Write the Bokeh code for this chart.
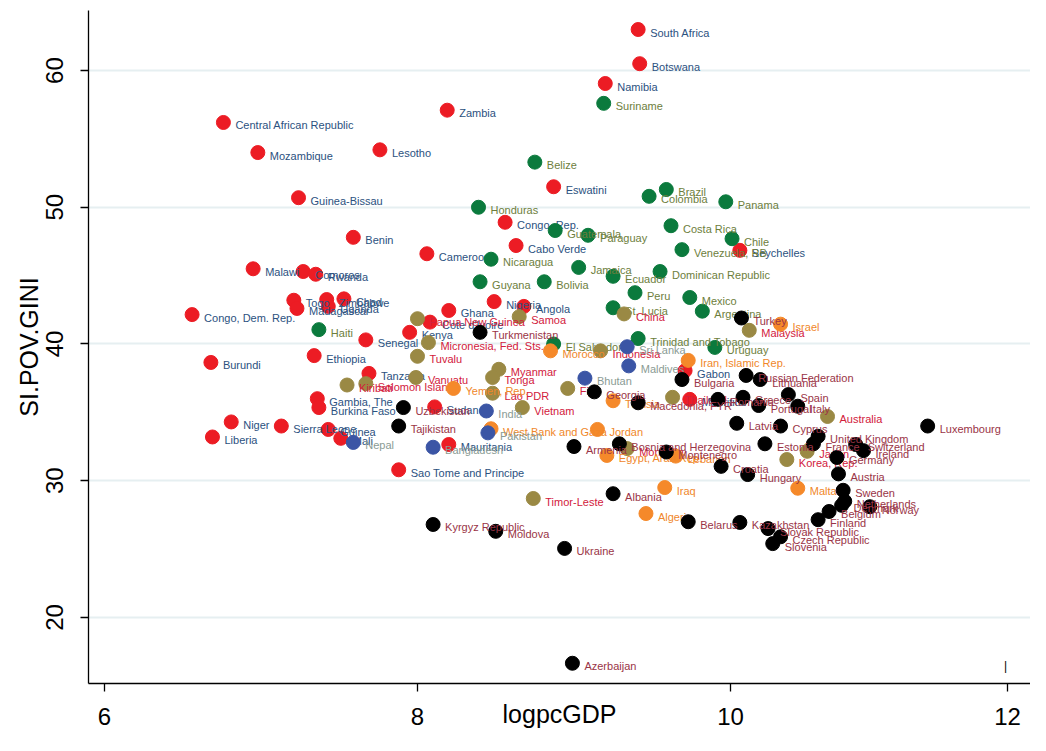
from bokeh.plotting import figure
from bokeh.models import ColumnDataSource, FixedTicker, Range1d, Label
from bokeh.embed import file_html
from bokeh.resources import INLINE
from bokeh.core.properties import value

# ---- data -------------------------------------------------------------
africa_names = ["South Africa", "Botswana", "Namibia", "Zambia", "Central African Republic",
                "Mozambique", "Lesotho", "Eswatini", "Guinea-Bissau", "Congo, Rep.", "Benin",
                "Cabo Verde", "Cameroon", "Malawi", "Comoros", "Rwanda", "Togo", "Madagascar",
                "Zimbabwe", "Uganda", "Chad", "Congo, Dem. Rep.", "Nigeria", "Angola", "Ghana",
                "Cote d'Ivoire", "Kenya", "Senegal", "Ethiopia", "Burundi", "Tanzania",
                "Gambia, The", "Burkina Faso", "Sudan", "Niger", "Liberia", "Sierra Leone",
                "Guinea", "Mali", "Mauritania", "Sao Tome and Principe", "Gabon", "Seychelles",
                "Mauritius"]
africa_x = [9.41, 9.42, 9.20, 8.19, 6.76, 6.98, 7.76, 8.87, 7.24, 8.56, 7.59, 8.63, 8.06,
            6.95, 7.27, 7.35, 7.21, 7.23, 7.42, 7.43, 7.53, 6.56, 8.49, 8.68, 8.20, 8.08,
            7.95, 7.67, 7.34, 6.68, 7.69, 7.36, 7.37, 8.11, 6.81, 6.69, 7.13, 7.43, 7.51,
            8.20, 7.88, 9.71, 10.06, 9.74]
africa_y = [63.0, 60.5, 59.05, 57.1, 56.2, 54.0, 54.2, 51.5, 50.7, 48.9, 47.8, 47.2, 46.6,
            45.5, 45.3, 45.1, 43.2, 42.6, 43.25, 42.75, 43.3, 42.15, 43.1, 42.75, 42.45, 41.6,
            40.85, 40.3, 39.15, 38.65, 37.85, 36.0, 35.35, 35.4, 34.3, 33.2, 34.0, 33.75, 33.1,
            32.65, 30.8, 38.05, 46.85, 35.95]

latam_names = ["Suriname", "Belize", "Brazil", "Colombia", "Panama", "Honduras", "Guatemala",
               "Paraguay", "Costa Rica", "Chile", "Venezuela, RB", "Nicaragua", "Jamaica",
               "Ecuador", "Dominican Republic", "Guyana", "Bolivia", "Peru", "Mexico",
               "St. Lucia", "Argentina", "Haiti", "El Salvador", "Trinidad and Tobago", "Uruguay"]
latam_x = [9.19, 8.75, 9.59, 9.48, 9.97, 8.39, 8.88, 9.09, 9.62, 10.01, 9.69, 8.47, 9.03,
           9.25, 9.55, 8.40, 8.81, 9.39, 9.74, 9.25, 9.82, 7.37, 8.87, 9.41, 9.90]
latam_y = [57.6, 53.3, 51.3, 50.8, 50.4, 50.0, 48.3, 47.95, 48.65, 47.7, 46.9, 46.2, 45.6,
           44.95, 45.3, 44.55, 44.55, 43.75, 43.4, 42.65, 42.4, 41.05, 40.0, 40.4, 39.75]

eap_names = ["Malaysia", "China", "Samoa", "Papua New Guinea", "Micronesia, Fed. Sts.", "Tuvalu",
             "Vanuatu", "Kiribati", "Solomon Islands", "Myanmar", "Tonga", "Lao PDR", "Vietnam",
             "Fiji", "Indonesia", "Timor-Leste", "Mongolia", "Thailand", "Korea, Rep.", "Japan",
             "Australia"]
eap_x = [10.12, 9.32, 8.65, 8.00, 8.07, 8.00, 7.99, 7.55, 7.67, 8.52, 8.48, 8.48, 8.67, 8.96,
         9.17, 8.74, 9.34, 9.63, 10.36, 10.49, 10.62]
eap_y = [41.0, 42.2, 42.0, 41.85, 40.1, 39.1, 37.55, 37.0, 37.1, 38.15, 37.55, 36.4, 35.35,
         36.75, 39.5, 28.7, 32.35, 36.1, 31.55, 32.15, 34.7]

mena_names = ["Israel", "Iran, Islamic Rep.", "Morocco", "Yemen, Rep.", "Tunisia",
              "West Bank and Gaza", "Jordan", "Egypt, Arab Rep.", "Lebanon", "Iraq", "Algeria",
              "Malta"]
mena_x = [10.32, 9.73, 8.85, 8.23, 9.25, 8.47, 9.15, 9.21, 9.65, 9.58, 9.46, 10.43]
mena_y = [41.45, 38.8, 39.5, 36.75, 35.85, 33.8, 33.75, 31.85, 31.8, 29.5, 27.6, 29.45]

sasia_names = ["Sri Lanka", "Maldives", "Bhutan", "India", "Pakistan", "Nepal", "Bangladesh"]
sasia_x = [9.34, 9.35, 9.07, 8.44, 8.45, 7.59, 8.10]
sasia_y = [39.8, 38.4, 37.5, 35.1, 33.5, 32.8, 32.45]

eca_names = ["Turkmenistan", "Turkey", "Uzbekistan", "Tajikistan", "Kyrgyz Republic", "Moldova",
             "Ukraine", "Azerbaijan", "Albania", "Armenia", "Bosnia and Herzegovina", "Georgia",
             "Macedonia, FYR", "Bulgaria", "Russian Federation", "Lithuania", "Belarus",
             "Kazakhstan", "Croatia", "Hungary", "Montenegro", "Latvia", "Cyprus", "Estonia",
             "Romania", "Greece", "Portugal", "Spain", "Italy", "Slovak Republic",
             "Czech Republic", "Slovenia", "Finland", "Belgium", "Denmark", "Netherlands",
             "Norway", "Sweden", "Austria", "Germany", "Ireland", "Switzerland",
             "United Kingdom", "France", "Luxembourg"]
eca_x = [8.40, 10.07, 7.91, 7.88, 8.10, 8.50, 8.94, 8.99, 9.25, 9.00, 9.29, 9.13, 9.41, 9.69,
         10.10, 10.19, 9.73, 10.06, 9.94, 10.11, 9.59, 10.04, 10.32, 10.22, 9.92, 10.08, 10.18,
         10.37, 10.43, 10.24, 10.32, 10.27, 10.56, 10.63, 10.71, 10.73, 10.89, 10.72, 10.69,
         10.68, 10.85, 10.80, 10.56, 10.53, 11.26]
eca_y = [40.85, 41.9, 35.35, 34.0, 26.8, 26.3, 25.05, 16.65, 29.05, 32.5, 32.7, 36.5, 35.7,
         37.4, 37.7, 37.4, 27.0, 26.95, 31.05, 30.45, 32.1, 34.2, 34.0, 32.7, 35.95, 36.1, 35.5,
         36.3, 35.45, 26.5, 25.9, 25.4, 27.15, 27.75, 28.2, 28.5, 28.1, 29.3, 30.5, 31.7, 32.2,
         32.65, 33.25, 32.7, 34.0]

x_ticks = [6, 8, 10, 11.77]
x_tick_labels = {11.77: "12"}
y_ticks = [20, 30, 40, 50, 60]

# ---- styling ----------------------------------------------------------
groups = [
    (africa_names, africa_x, africa_y, "#ec1c24", "#2b5180"),
    (latam_names, latam_x, latam_y, "#0b7a3d", "#6d7e3c"),
    (eap_names, eap_x, eap_y, "#9a8944", "#d2203c"),
    (mena_names, mena_x, mena_y, "#f5892a", "#f0872a"),
    (sasia_names, sasia_x, sasia_y, "#3b55a5", "#8a9b94"),
    (eca_names, eca_x, eca_y, "#000000", "#9a3446"),
]

FONT = "Liberation Sans"
p = figure(width=1030, height=735, output_backend="svg", toolbar_location=None,
           x_range=Range1d(5.898, 11.917), y_range=Range1d(15.17, 64.39),
           min_border_left=88, min_border_right=0, min_border_top=10, min_border_bottom=52)
p.outline_line_color = None
p.background_fill_color = "white"
p.xgrid.grid_line_color = None
p.ygrid.grid_line_color = "#e6eff1"
p.ygrid.grid_line_width = 2
p.ygrid.ticker = FixedTicker(ticks=y_ticks)

p.xaxis.ticker = FixedTicker(ticks=x_ticks)
p.xaxis.major_label_overrides = x_tick_labels
p.yaxis.ticker = FixedTicker(ticks=y_ticks)
p.xaxis.minor_tick_line_color = None
p.yaxis.minor_tick_line_color = None
for ax in (p.xaxis, p.yaxis):
    ax.axis_line_color = "black"
    ax.axis_line_width = 1.3
    ax.major_tick_line_color = "black"
    ax.major_tick_line_width = 1.3
    ax.major_tick_out = 8
    ax.major_tick_in = 0
    ax.major_label_text_font = FONT
    ax.major_label_text_font_size = "24px"
    ax.major_label_text_color = "black"
    ax.axis_label_text_font = FONT
    ax.axis_label_text_font_size = "25px"
    ax.axis_label_text_font_style = "normal"
    ax.axis_label_text_color = "black"
p.yaxis.major_label_orientation = "vertical"
p.yaxis.axis_label = "SI.POV.GINI"
p.xaxis.axis_label = "logpcGDP"
p.xaxis.major_label_standoff = 16
p.xaxis.axis_label_standoff = -28
p.yaxis.major_label_standoff = 17
p.yaxis.axis_label_standoff = 1

# stray tick mark shown inside the plot near x = 12 in the original
p.add_layout(Label(x=917, y=18, x_units="screen", y_units="screen", text="|",
                   text_font=FONT, text_font_size="12px", text_align="center",
                   text_baseline="middle", text_color="black"))

for names, xs, ys, dot_c, lab_c in groups:
    src = ColumnDataSource(dict(x=xs, y=ys, name=names))
    p.scatter("x", "y", source=src, size=14, fill_color=dot_c, line_color=dot_c)
    p.text("x", "y", text="name", source=src, x_offset=12, y_offset=3,
           text_font=value(FONT), text_font_size="11px",
           text_color=lab_c, text_baseline="middle", text_align="left")

open("out.html", "w").write(file_html(p, INLINE))
